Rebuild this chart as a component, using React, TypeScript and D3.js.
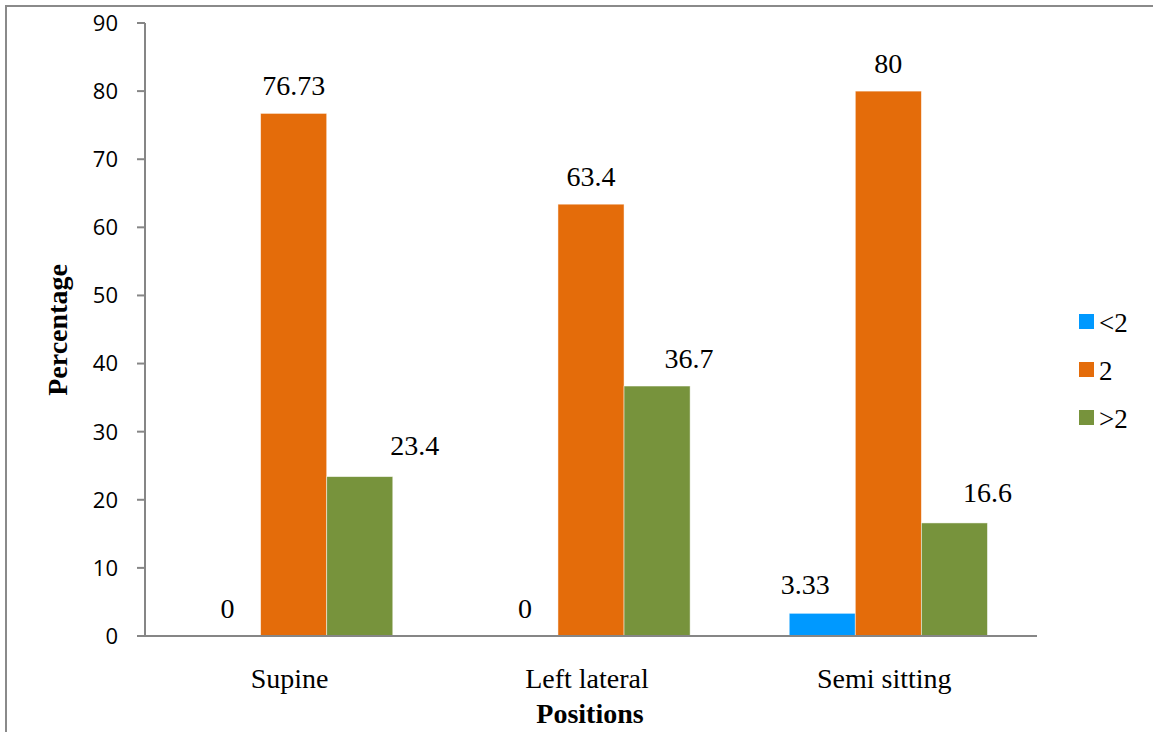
import React from "react";
import * as d3 from "d3";

const categories = ["Supine", "Left lateral", "Semi sitting"];
const seriesNames = ["<2", "2", ">2"];
const lessThanTwo = [0, 0, 3.33];
const exactlyTwo = [76.73, 63.4, 80];
const moreThanTwo = [23.4, 36.7, 16.6];
const dataLabels = [
  ["0", "0", "3.33"],
  ["76.73", "63.4", "80"],
  ["23.4", "36.7", "16.6"],
];
const yTicks = [0, 10, 20, 30, 40, 50, 60, 70, 80, 90];
const colors = ["#0099FF", "#E46C0A", "#77933C"];

// hand-placed label nudges [dx, gap above bar top], per series then category
const labelNudge: [number, number][][] = [
  [[0, 18], [0, 18], [-17, 19]],
  [[0, 18], [0, 18], [0, 18]],
  [[55, 22], [32, 18], [33, 21]],
];

const W = 1153;
const H = 732;
const plot = { left: 145, right: 1037, top: 23, bottom: 636 };

const serif = "'Liberation Serif', 'Times New Roman', serif";
const sans = "'Open Sans', 'Liberation Sans', sans-serif";

export default function App() {
  const series = [lessThanTwo, exactlyTwo, moreThanTwo];

  const x0 = d3
    .scaleBand<string>()
    .domain(categories)
    .range([plot.left, plot.right])
    .paddingInner(0)
    .paddingOuter(0);
  const x1 = d3
    .scaleBand<string>()
    .domain(seriesNames)
    .range([0, x0.bandwidth()])
    .paddingInner(0)
    .paddingOuter(0.75);
  const y = d3.scaleLinear().domain([0, 90]).range([plot.bottom, plot.top]);

  const axisColor = "#868686";

  return (
    <svg
      width={W}
      height={H}
      style={{ position: "absolute", left: 0, top: 0, background: "#fff" }}
    >
      {/* outer frame */}
      <line x1={5} x2={W} y1={6} y2={6} stroke="#8a8a8a" strokeWidth={2} />
      <line x1={6} x2={6} y1={5} y2={H} stroke="#8a8a8a" strokeWidth={2} />

      {/* bars */}
      {series.map((vals, si) =>
        categories.map((c, ci) => {
          const v = vals[ci];
          const bx = (x0(c) ?? 0) + (x1(seriesNames[si]) ?? 0);
          return (
            <rect
              key={`b-${si}-${ci}`}
              x={bx}
              y={y(v)}
              width={x1.bandwidth()}
              height={plot.bottom - y(v)}
              fill={colors[si]}
              stroke="#ffffff"
              strokeOpacity={0.6}
              strokeWidth={v > 0 ? 0.8 : 0}
            />
          );
        })
      )}

      {/* data labels */}
      {series.map((vals, si) =>
        categories.map((c, ci) => {
          const v = vals[ci];
          const [dx, gap] = labelNudge[si][ci];
          const cx =
            (x0(c) ?? 0) + (x1(seriesNames[si]) ?? 0) + x1.bandwidth() / 2;
          return (
            <text
              key={`l-${si}-${ci}`}
              x={cx + dx}
              y={y(v) - gap}
              textAnchor="middle"
              fontFamily={serif}
              fontSize={28}
              fill="#000"
            >
              {dataLabels[si][ci]}
            </text>
          );
        })
      )}

      {/* y axis */}
      <line
        x1={plot.left}
        x2={plot.left}
        y1={plot.top}
        y2={plot.bottom}
        stroke={axisColor}
        strokeWidth={2}
      />
      {yTicks.map((t) => (
        <g key={`t-${t}`}>
          <line
            x1={plot.left - 8}
            x2={plot.left}
            y1={y(t)}
            y2={y(t)}
            stroke={axisColor}
            strokeWidth={2}
          />
          <text
            x={118}
            y={y(t)}
            dy="0.36em"
            textAnchor="end"
            fontFamily={sans}
            fontSize={22}
            fill="#000"
          >
            {t}
          </text>
        </g>
      ))}

      {/* x axis */}
      <line
        x1={plot.left - 8}
        x2={plot.right}
        y1={plot.bottom}
        y2={plot.bottom}
        stroke={axisColor}
        strokeWidth={2}
      />
      {categories.map((c) => (
        <text
          key={`c-${c}`}
          x={(x0(c) ?? 0) + x0.bandwidth() / 2 - 4}
          y={688}
          textAnchor="middle"
          fontFamily={serif}
          fontSize={28}
          fill="#000"
        >
          {c}
        </text>
      ))}

      {/* axis titles */}
      <text
        x={590}
        y={723}
        textAnchor="middle"
        fontFamily={serif}
        fontWeight="bold"
        fontSize={28}
        fill="#000"
      >
        Positions
      </text>
      <text
        transform={`translate(67,330) rotate(-90)`}
        textAnchor="middle"
        fontFamily={serif}
        fontWeight="bold"
        fontSize={28}
        fill="#000"
      >
        Percentage
      </text>

      {/* legend */}
      {seriesNames.map((s, i) => (
        <g key={`lg-${s}`} transform={`translate(1079, ${314 + i * 48})`}>
          <rect width={15} height={15} fill={colors[i]} />
          <text
            x={20}
            y={18}
            fontFamily={serif}
            fontSize={27}
            fill="#000"
          >
            {s}
          </text>
        </g>
      ))}
    </svg>
  );
}
